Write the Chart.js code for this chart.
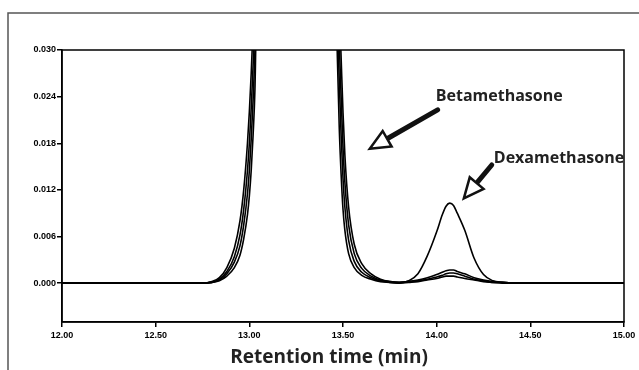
<!DOCTYPE html>
<html>
<head>
<meta charset="utf-8">
<script src="https://cdn.jsdelivr.net/npm/chart.js@4/dist/chart.umd.min.js"></script>
<style>
  body { margin: 0; background: #fff; }
  #wrap { width: 639px; height: 370px; }
</style>
</head>
<body>
<div id="wrap"><canvas id="grafico" width="639" height="370"></canvas></div>
<script>
// retention time (min), shared by all runs
const tempi = [12.00, 12.75, 12.80, 12.84, 12.88, 12.92, 12.95, 12.97, 12.99, 13.00, 13.01, 13.02, 13.03, 13.05,
  13.45, 13.47, 13.48, 13.49, 13.50, 13.51, 13.53, 13.56, 13.60, 13.65, 13.70, 13.75, 13.80, 13.85, 13.90, 13.95,
  14.00, 14.03, 14.05, 14.07, 14.09, 14.11, 14.15, 14.20, 14.25, 14.30, 14.35, 14.42, 15.00];

// absorbance of the overlaid runs
const run1 = [0, 0, 0.0001, 0.0004, 0.0012, 0.0027, 0.0048, 0.0075, 0.0115, 0.0145, 0.0185, 0.0235, 0.0300, 0.0500,
  0.0500, 0.0290, 0.0200, 0.0140, 0.0095, 0.0068, 0.0038, 0.0020, 0.0010, 0.0005, 0.0002, 0.0001, 0, 0.0003, 0.0012, 0.0035,
  0.0066, 0.0088, 0.0099, 0.0103, 0.0100, 0.0090, 0.0068, 0.0032, 0.0011, 0.0003, 0.0001, 0, 0];
const run2 = [0, 0, 0.0002, 0.0007, 0.0020, 0.0045, 0.0080, 0.0120, 0.0180, 0.0220, 0.0270, 0.0330, 0.0400, 0.0500,
  0.0500, 0.0380, 0.0310, 0.0240, 0.0175, 0.0130, 0.0075, 0.0038, 0.0019, 0.0009, 0.0004, 0.0002, 0.0001, 0.0002, 0.0004, 0.0007,
  0.0011, 0.0014, 0.0016, 0.0017, 0.0017, 0.0015, 0.0012, 0.0007, 0.0004, 0.0002, 0.0001, 0, 0];
const run3 = [0, 0, 0.0001, 0.0003, 0.0009, 0.0020, 0.0036, 0.0057, 0.0088, 0.0112, 0.0145, 0.0190, 0.0250, 0.0500,
  0.0500, 0.0420, 0.0360, 0.0290, 0.0220, 0.0165, 0.0098, 0.0050, 0.0025, 0.0012, 0.0005, 0.0002, 0.0001, 0.0002, 0.0003, 0.0005,
  0.0008, 0.0010, 0.0012, 0.0013, 0.0013, 0.0012, 0.0009, 0.0005, 0.0003, 0.0001, 0.0001, 0, 0];
const run4 = [0, 0, 0.0001, 0.0005, 0.0015, 0.0034, 0.0062, 0.0095, 0.0145, 0.0180, 0.0225, 0.0280, 0.0340, 0.0500,
  0.0500, 0.0340, 0.0260, 0.0190, 0.0135, 0.0098, 0.0055, 0.0028, 0.0014, 0.0007, 0.0003, 0.0001, 0, 0.0001, 0.0002, 0.0004,
  0.0006, 0.0008, 0.0009, 0.0009, 0.0009, 0.0008, 0.0006, 0.0004, 0.0002, 0.0001, 0, 0, 0];

const tickX = [12.00, 12.50, 13.00, 13.50, 14.00, 14.50, 15.00];
const tickY = [0.000, 0.006, 0.012, 0.018, 0.024, 0.030];
const titoloX = 'Retention time (min)';

// arrow labels: text anchor, arrow tail, arrow tip (data units)
const etichette = [
  { testo: 'Betamethasone', tx: 13.995, ty: 0.0240, x0: 14.005, y0: 0.0223, x1: 13.643, y1: 0.0173 },
  { testo: 'Dexamethasone', tx: 14.305, ty: 0.0161, x0: 14.294, y0: 0.0152, x1: 14.145, y1: 0.0109 }
];

const cornice = {
  id: 'cornice',
  beforeDraw(chart) {
    const c = chart.ctx;
    c.save();
    c.strokeStyle = '#555';
    c.lineWidth = 1.5;
    c.strokeRect(8, 13, 700, 400);
    c.restore();
  },
  afterDraw(chart) {
    const c = chart.ctx;
    const a = chart.chartArea;
    const sx = chart.scales.x, sy = chart.scales.y;
    c.save();
    c.strokeStyle = '#000';
    c.lineWidth = 1.5;
    c.strokeRect(a.left, a.top, a.right - a.left, a.bottom - a.top);

    // x title sits a little left of the plot centre, as in the original
    c.fillStyle = '#222';
    c.font = 'bold 19px "Open Sans"';
    c.textAlign = 'center';
    c.textBaseline = 'middle';
    c.fillText(titoloX, (a.left + a.right) / 2 - 14, a.bottom + 36);

    etichette.forEach(e => {
      c.fillStyle = '#222';
      c.font = 'bold 16px "Open Sans"';
      c.textBaseline = 'middle';
      c.textAlign = 'left';
      c.fillText(e.testo, sx.getPixelForValue(e.tx), sy.getPixelForValue(e.ty));

      const px0 = sx.getPixelForValue(e.x0), py0 = sy.getPixelForValue(e.y0);
      const px1 = sx.getPixelForValue(e.x1), py1 = sy.getPixelForValue(e.y1);
      const ang = Math.atan2(py1 - py0, px1 - px0);
      const lung = 20, larg = 9;
      const bx = px1 - Math.cos(ang) * lung, by = py1 - Math.sin(ang) * lung;
      c.strokeStyle = '#111';
      c.lineCap = 'round';
      c.lineWidth = 5;
      c.beginPath();
      c.moveTo(px0, py0);
      c.lineTo(bx, by);
      c.stroke();
      c.lineWidth = 2.5;
      c.lineJoin = 'miter';
      c.fillStyle = '#fff';
      c.beginPath();
      c.moveTo(px1, py1);
      c.lineTo(bx + Math.sin(ang) * larg, by - Math.cos(ang) * larg);
      c.lineTo(bx - Math.sin(ang) * larg, by + Math.cos(ang) * larg);
      c.closePath();
      c.fill();
      c.stroke();
    });
    c.restore();
  }
};

const serie = [run1, run2, run3, run4].map(v => ({
  data: tempi.map((t, i) => ({ x: t, y: v[i] })),
  borderColor: '#000',
  borderWidth: 1.6,
  pointRadius: 0,
  cubicInterpolationMode: 'monotone',
  fill: false
}));

const fontTick = { family: '"Liberation Sans Narrow", "Liberation Sans", sans-serif', size: 9, weight: 'bold' };

new Chart(document.getElementById('grafico'), {
  type: 'line',
  data: { datasets: serie },
  options: {
    responsive: false,
    animation: false,
    layout: { padding: { left: 0, top: 50, right: 15, bottom: 0 } },
    plugins: { legend: { display: false }, tooltip: { enabled: false } },
    scales: {
      x: {
        type: 'linear',
        min: 12,
        max: 15,
        afterBuildTicks: ax => { ax.ticks = tickX.map(v => ({ value: v })); },
        afterFit: ax => { ax.height = 48; },
        ticks: { color: '#000', font: fontTick, padding: 3, maxRotation: 0, callback: v => v.toFixed(2) },
        grid: { drawOnChartArea: false, tickLength: 5, color: '#000', lineWidth: 1.5 },
        border: { color: '#000', width: 1.5 }
      },
      y: {
        min: -0.005,
        max: 0.030,
        afterBuildTicks: ax => { ax.ticks = tickY.map(v => ({ value: v })); },
        afterFit: ax => { ax.width = 62; },
        ticks: { color: '#000', font: fontTick, padding: 1, callback: v => v.toFixed(3) },
        grid: { drawOnChartArea: false, tickLength: 5, color: '#000', lineWidth: 1.5 },
        border: { color: '#000', width: 1.5 }
      }
    }
  },
  plugins: [cornice]
});
</script>
</body>
</html>
